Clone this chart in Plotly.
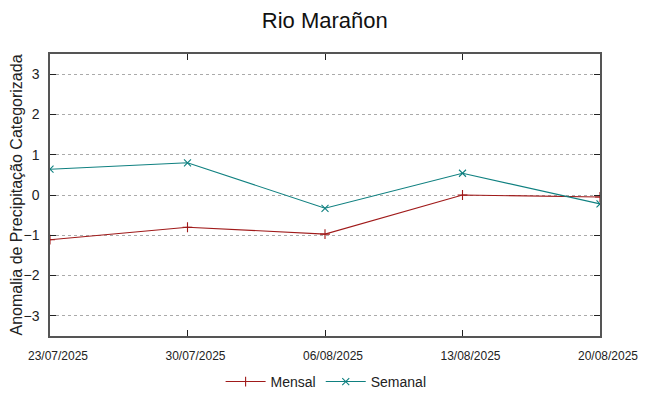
import plotly.graph_objects as go

dates = ["2025-07-23", "2025-07-30", "2025-08-06", "2025-08-13", "2025-08-20"]
tick_labels = ["23/07/2025", "30/07/2025", "06/08/2025", "13/08/2025", "20/08/2025"]
mensal = [-1.11, -0.80, -0.97, 0.0, -0.05]
semanal = [0.64, 0.80, -0.33, 0.54, -0.22]
y_ticks = [-3, -2, -1, 0, 1, 2, 3]

RED = "#a01a1a"
TEAL = "#0f8080"
FONT = "Liberation Sans, Arial, sans-serif"

fig = go.Figure()
fig.add_trace(go.Scatter(
    x=dates, y=mensal, name="Mensal", mode="lines+markers",
    line=dict(color=RED, width=1.1),
    marker=dict(symbol="cross-thin", size=7, line=dict(color=RED, width=1.1)),
))
fig.add_trace(go.Scatter(
    x=dates, y=semanal, name="Semanal", mode="lines+markers",
    line=dict(color=TEAL, width=1.1),
    marker=dict(symbol="x-thin", size=7, line=dict(color=TEAL, width=1.1)),
))

fig.update_layout(
    width=640, height=388,
    margin=dict(l=42, r=48, t=46, b=60, autoexpand=False),
    paper_bgcolor="white", plot_bgcolor="white",
    font=dict(family=FONT, color="#222222"),
    title=dict(text="Rio Marañon", x=0.495, xanchor="center", y=0.969, yanchor="middle",
               font=dict(size=22, family=FONT, color="#111111")),
    showlegend=True,
    legend=dict(orientation="h", x=0.502, xanchor="center", y=-0.163, yanchor="middle",
                font=dict(size=14, family=FONT), itemwidth=40, bgcolor="rgba(0,0,0,0)"),
)
fig.update_xaxes(
    type="date", range=[dates[0], dates[-1]],
    tickvals=dates, ticktext=tick_labels, automargin=False,
    tickfont=dict(size=12, family=FONT, color="#222222"),
    ticks="inside", ticklen=6, tickcolor="#222222",
    showline=True, linecolor="#555555", linewidth=1.5, mirror="ticks",
    showgrid=False, zeroline=False, ticklabelstandoff=8, ticklabelshift=8,
)
fig.update_yaxes(
    range=[-3.5, 3.5], tickvals=y_ticks, automargin=False,
    tickfont=dict(size=14, family=FONT, color="#222222"),
    ticks="inside", ticklen=6, tickcolor="#222222",
    showline=True, linecolor="#555555", linewidth=1.5, mirror="ticks",
    showgrid=True, gridcolor="#aaaaaa", griddash="dot", gridwidth=1,
    zeroline=False, ticklabelstandoff=6,
    title=dict(text="Anomalia de Precipitação Categorizada", standoff=6,
               font=dict(size=16, family=FONT, color="#222222")),
)

fig.write_html("out.html")
